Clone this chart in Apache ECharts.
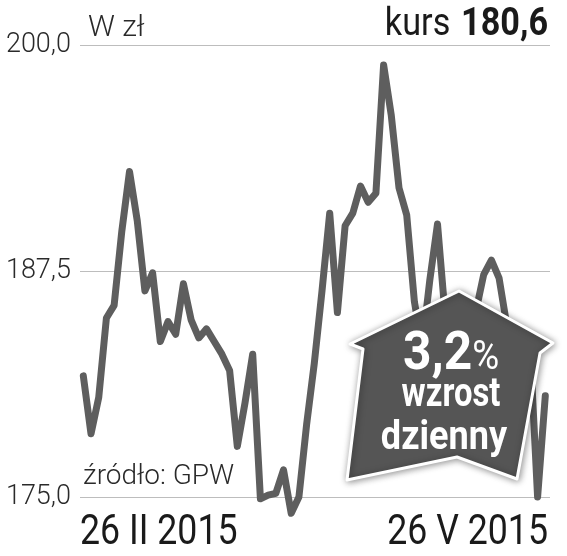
<!DOCTYPE html>
<html>
<head>
<meta charset="utf-8">
<script src="https://cdn.jsdelivr.net/npm/echarts@6/dist/echarts.min.js"></script>
<style>
html,body{margin:0;padding:0;background:#fff;}
#chart{width:567px;height:556px;}
</style>
</head>
<body>
<div id="chart"></div>
<script>
// Daily closing prices, 26 II 2015 – 26 V 2015 (zł)
var prices = [
  181.7, 178.5, 180.5, 184.9, 185.6, 189.7, 193.0, 190.3, 186.4, 187.4,
  183.6, 184.7, 184.0, 186.8, 184.8, 183.8, 184.3, 183.6, 182.9, 182.0,
  177.8, 180.2, 182.9, 174.9, 175.1, 175.2, 176.5, 174.1, 175.0, 179.0,
  182.4, 186.4, 190.7, 185.2, 190.0, 190.7, 192.2, 191.3, 191.8, 198.9,
  196.1, 192.1, 190.6, 185.8, 183.3, 187.0, 190.1, 185.0, 184.0, 182.5,
  183.5, 185.3, 187.3, 188.1, 187.1, 184.5, 182.0, 181.5, 183.5, 175.0,
  180.6
];
var yTicks = [175, 187.5, 200];
var dateLabels = ['26 II 2015', '26 V 2015'];
var unitLabel = 'W zł';
var lastLabel = ['kurs', '180,6'];
var sourceLabel = 'źródło: GPW';
var badgeLines = ['3,2', '%', 'wzrost', 'dzienny'];

var chart = echarts.init(document.getElementById('chart'), null, {renderer: 'canvas'});

var seriesData = prices.map(function (v, i) { return [i, v]; });

var thin = 'Roboto, "Liberation Sans", sans-serif';
var narrow = 'Roboto, "Liberation Sans", sans-serif';

chart.setOption({
  animation: false,
  backgroundColor: '#ffffff',
  grid: {left: 80, right: 17, top: 45, bottom: 59},
  xAxis: {
    type: 'value',
    min: -0.43,
    max: prices.length - 1 + 0.61,
    show: false
  },
  yAxis: {
    type: 'value',
    min: yTicks[0],
    max: yTicks[yTicks.length - 1],
    interval: 12.5,
    axisLine: {show: false},
    axisTick: {show: false},
    splitLine: {lineStyle: {color: '#bdbdbd', width: 1}},
    axisLabel: {
      color: '#2a2a2a',
      fontFamily: thin,
      fontWeight: 300,
      fontSize: 27,
      margin: 9,
      formatter: function (v) { return v.toFixed(1).replace('.', ','); }
    }
  },
  series: [{
    type: 'line',
    data: seriesData,
    symbol: 'none',
    clip: false,
    lineStyle: {color: '#5e5e5e', width: 7, join: 'round', cap: 'round'},
    z: 2
  }],
  graphic: [
    {type: 'text', z: 10, x: 88, y: 28,
      style: {text: unitLabel, font: '300 30px ' + thin, fill: '#2a2a2a', verticalAlign: 'middle'}},
    {type: 'text', z: 10, x: 548, y: 25, scaleX: 0.9,
      style: {
        text: '{a|' + lastLabel[0] + '}{s|}{b|' + lastLabel[1] + '}',
        align: 'right', verticalAlign: 'middle',
        rich: {
          a: {fontFamily: narrow, fontSize: 38, fontWeight: 'normal', fill: '#1a1a1a'},
          s: {width: 12},
          b: {fontFamily: narrow, fontSize: 38, fontWeight: 'bold', fill: '#1a1a1a'}
        }
      }},
    {type: 'text', z: 10, x: 83, y: 477,
      style: {text: sourceLabel, font: '300 28px ' + thin, fill: '#2a2a2a', verticalAlign: 'middle'}},
    {type: 'text', z: 10, x: 80, y: 533, scaleX: 0.85,
      style: {text: dateLabels[0], font: '42px ' + narrow, fill: '#1a1a1a', verticalAlign: 'middle'}},
    {type: 'text', z: 10, x: 548, y: 533, scaleX: 0.85,
      style: {text: dateLabels[1], font: '42px ' + narrow, fill: '#1a1a1a', align: 'right', verticalAlign: 'middle'}},
    {type: 'polygon', z: 20,
      shape: {points: [[459, 291], [553, 343], [540, 353], [517, 479], [457, 457], [347, 480], [363, 349], [350, 344]]},
      style: {fill: '#555555', stroke: '#ffffff', lineWidth: 3, lineJoin: 'round',
        shadowBlur: 7, shadowColor: 'rgba(0,0,0,0.4)', shadowOffsetX: 1, shadowOffsetY: 1}},
    {type: 'text', z: 21, x: 451, y: 355, scaleX: 0.92,
      style: {
        text: '{a|' + badgeLines[0] + '}{b|' + badgeLines[1] + '}',
        align: 'center', verticalAlign: 'middle',
        rich: {
          a: {fontFamily: narrow, fontSize: 54, fontWeight: 'bold', fill: '#ffffff'},
          b: {fontFamily: narrow, fontSize: 40, fontWeight: 'normal', fill: '#ffffff', padding: [8, 0, 0, 0]}
        }
      }},
    {type: 'text', z: 21, x: 451, y: 396, scaleX: 0.8,
      style: {text: badgeLines[2], font: 'bold 41px ' + narrow, fill: '#ffffff', align: 'center', verticalAlign: 'middle'}},
    {type: 'text', z: 21, x: 444, y: 439, scaleX: 0.88,
      style: {text: badgeLines[3], font: 'bold 41px ' + narrow, fill: '#ffffff', align: 'center', verticalAlign: 'middle'}}
  ]
});
</script>
</body>
</html>
